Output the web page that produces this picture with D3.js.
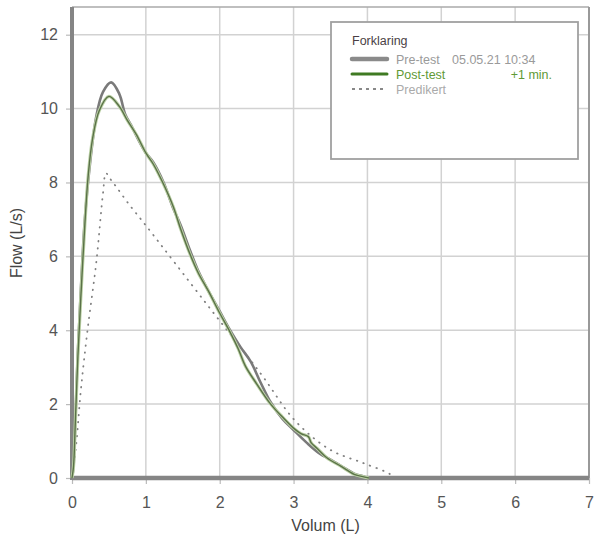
<!DOCTYPE html>
<html>
<head>
<meta charset="utf-8">
<script src="https://cdn.jsdelivr.net/npm/d3@7"></script>
<style>
  body { margin: 0; background: #fff; }
  text { font-family: "Liberation Sans", Arial, sans-serif; }
</style>
</head>
<body>
<svg id="chart" width="595" height="538"></svg>
<script>
// volume (L) / flow (L/s)
const preVol = [0, 0.02, 0.045, 0.077, 0.12, 0.17, 0.235, 0.33, 0.42, 0.53, 0.64, 0.72, 0.8, 0.9, 1.0, 1.1, 1.24, 1.37, 1.47, 1.6, 1.71, 1.85, 1.99, 2.14, 2.28, 2.42, 2.55, 2.69, 2.85, 3.0, 3.18, 3.36, 3.5, 3.64, 3.82, 3.95, 4.0];
const preFlow = [0, 0.3, 1.5, 3.3, 5.1, 6.9, 8.35, 9.8, 10.45, 10.71, 10.4, 9.85, 9.55, 9.15, 8.8, 8.55, 8.0, 7.3, 6.85, 6.15, 5.6, 5.05, 4.55, 4.0, 3.55, 3.15, 2.6, 2.05, 1.6, 1.3, 0.95, 0.65, 0.5, 0.33, 0.12, 0.04, 0];

const postVol = [0, 0.02, 0.045, 0.08, 0.125, 0.175, 0.22, 0.28, 0.37, 0.5, 0.64, 0.75, 0.87, 1.0, 1.1, 1.24, 1.37, 1.47, 1.6, 1.71, 1.85, 1.99, 2.14, 2.25, 2.35, 2.5, 2.69, 2.85, 3.0, 3.1, 3.2, 3.24, 3.32, 3.45, 3.64, 3.82, 3.95, 4.02];
const postFlow = [0, 0.3, 1.5, 3.3, 5.1, 6.9, 8.2, 9.2, 9.95, 10.33, 10.06, 9.68, 9.3, 8.8, 8.5, 7.95, 7.35, 6.75, 6.05, 5.55, 5.05, 4.5, 3.95, 3.5, 3.02, 2.55, 2.0, 1.65, 1.35, 1.2, 1.12, 0.95, 0.8, 0.55, 0.32, 0.1, 0.03, 0];

const predVol = [0, 0.054, 0.12, 0.21, 0.33, 0.42, 0.46, 0.52, 0.6, 0.76, 1.01, 1.83, 2.55, 3.03, 3.5, 3.95, 4.31, 4.35];
const predFlow = [0, 0.85, 2.38, 4.0, 5.86, 7.71, 8.25, 8.09, 7.88, 7.44, 6.81, 4.69, 2.84, 1.53, 0.76, 0.4, 0.1, 0];

const xTicks = [0, 1, 2, 3, 4, 5, 6, 7];
const yTicks = [0, 2, 4, 6, 8, 10, 12];

const legendItems = [
    {label: "Pre-test", extra: "05.05.21 10:34", color: "#8a8a8a", textColor: "#9a9a9a"},
    {label: "Post-test", extra: "+1 min.", color: "#3f7a22", textColor: "#5f9a35"},
    {label: "Predikert", extra: "", color: "#888", textColor: "#aaa"}
];

const svg = d3.select("#chart");
const plot = {left: 72, right: 589, top: 7, bottom: 478};

const x = d3.scaleLinear().domain([0, 7]).range([plot.left, plot.right]);
const y = d3.scaleLinear().domain([0, 12.75]).range([plot.bottom, plot.top]);

// grid
svg.append("g")
    .selectAll("line")
    .data(xTicks.slice(1, -1))
    .join("line")
    .attr("x1", d => x(d)).attr("x2", d => x(d))
    .attr("y1", plot.top).attr("y2", plot.bottom)
    .attr("stroke", "#d2d2d2").attr("stroke-width", 1.5);

svg.append("g")
    .selectAll("line")
    .data(yTicks.slice(1))
    .join("line")
    .attr("x1", plot.left).attr("x2", plot.right)
    .attr("y1", d => y(d)).attr("y2", d => y(d))
    .attr("stroke", "#d2d2d2").attr("stroke-width", 1.5);

// frame top / right
svg.append("line").attr("x1", plot.left).attr("x2", plot.right).attr("y1", plot.top).attr("y2", plot.top)
    .attr("stroke", "#aaa").attr("stroke-width", 1.5);
svg.append("line").attr("x1", plot.right).attr("x2", plot.right).attr("y1", plot.top).attr("y2", plot.bottom)
    .attr("stroke", "#999").attr("stroke-width", 2);

// axes
const xAxis = g => g.attr("transform", `translate(0,${plot.bottom})`)
    .call(d3.axisBottom(x).tickValues(xTicks).tickSize(6).tickFormat(d3.format("d")))
    .call(g => g.select(".domain").remove())
    .call(g => g.selectAll(".tick line").attr("stroke", "#bbb").attr("stroke-width", 1.2))
    .call(g => g.selectAll(".tick text").attr("y", 19).attr("fill", "#555")
        .style("font-size", "16px").style("font-family", "Liberation Sans, Arial, sans-serif"));

const yAxis = g => g.attr("transform", `translate(${plot.left},0)`)
    .call(d3.axisLeft(y).tickValues(yTicks).tickSize(6).tickFormat(d3.format("d")))
    .call(g => g.select(".domain").remove())
    .call(g => g.selectAll(".tick line").attr("stroke", "#bbb").attr("stroke-width", 1.2))
    .call(g => g.selectAll(".tick text").attr("x", -14).attr("fill", "#555")
        .style("font-size", "16px").style("font-family", "Liberation Sans, Arial, sans-serif"));

svg.append("g").call(xAxis);
svg.append("g").call(yAxis);

// axis lines (thick)
svg.append("line").attr("x1", plot.left).attr("x2", plot.right).attr("y1", plot.bottom).attr("y2", plot.bottom)
    .attr("stroke", "#858585").attr("stroke-width", 4.5);
svg.append("line").attr("x1", plot.left).attr("x2", plot.left).attr("y1", plot.top).attr("y2", plot.bottom + 2)
    .attr("stroke", "#858585").attr("stroke-width", 4);

svg.append("text").attr("x", (plot.left + plot.right) / 2 - 5).attr("y", 531)
    .attr("text-anchor", "middle").attr("fill", "#444").style("font-size", "16px")
    .text("Volum (L)");
svg.append("text").attr("transform", "translate(22,243) rotate(-90)")
    .attr("text-anchor", "middle").attr("fill", "#444").style("font-size", "16px")
    .text("Flow (L/s)");

// curves
const line = d3.line()
    .x(d => x(d[0]))
    .y(d => y(d[1]))
    .curve(d3.curveCatmullRom.alpha(0.5));

const pre = d3.zip(preVol, preFlow);
const post = d3.zip(postVol, postFlow);
const pred = d3.zip(predVol, predFlow);

svg.append("path").datum(pred).attr("d", line)
    .attr("fill", "none").attr("stroke", "#808080").attr("stroke-width", 1.8)
    .attr("stroke-dasharray", "0.5,6.5").attr("stroke-linecap", "round");

svg.append("path").datum(pre).attr("d", line)
    .attr("fill", "none").attr("stroke", "#7a7a7a").attr("stroke-width", 2.6);

svg.append("path").datum(post).attr("d", line)
    .attr("fill", "none").attr("stroke", "#bcd2a6").attr("stroke-width", 3.2);
svg.append("path").datum(post).attr("d", line)
    .attr("fill", "none").attr("stroke", "#5a7148").attr("stroke-width", 1.4);

// legend
const lg = svg.append("g");
lg.append("rect").attr("x", 331).attr("y", 22).attr("width", 247).attr("height", 137)
    .attr("fill", "#fff").attr("stroke", "#a0a0a0").attr("stroke-width", 1.8);
lg.append("text").attr("x", 352).attr("y", 45).attr("fill", "#4a3f45")
    .style("font-size", "12.5px").text("Forklaring");

legendItems.forEach((item, i) => {
    const ly = 59 + i * 15;
    const l = lg.append("line").attr("x1", 352).attr("x2", 387).attr("y1", ly).attr("y2", ly)
        .attr("stroke", item.color).attr("stroke-linecap", "round");
    if (i === 0) l.attr("stroke-width", 4.5);
    else if (i === 1) l.attr("stroke-width", 3);
    else l.attr("stroke-width", 2).attr("stroke-dasharray", "3,4").attr("stroke-linecap", "butt");
    lg.append("text").attr("x", 396).attr("y", ly + 4.5).attr("fill", item.textColor)
        .style("font-size", "12.5px").text(item.label);
    if (item.extra) {
        lg.append("text").attr("x", i === 0 ? 452 : 552).attr("y", ly + 4.5)
            .attr("text-anchor", i === 0 ? "start" : "end")
            .attr("fill", item.textColor).style("font-size", "12.5px").text(item.extra);
    }
});
</script>
</body>
</html>
